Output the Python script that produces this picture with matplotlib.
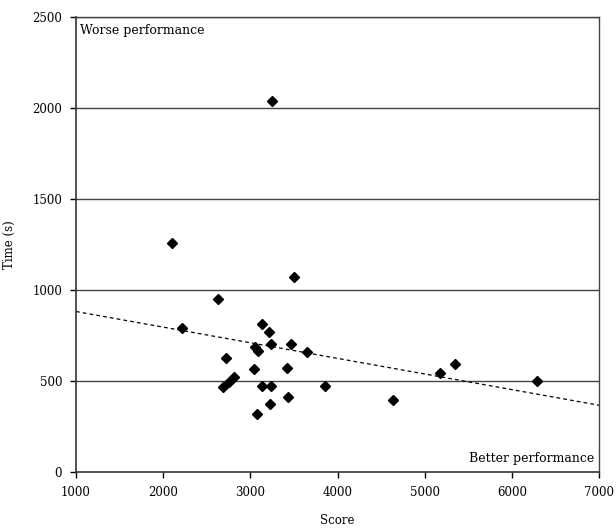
import numpy as np
import matplotlib
matplotlib.use("Agg")
import matplotlib.pyplot as plt

score = [2101, 3248, 3501, 2632, 2212, 3130, 3214, 3237, 3463, 3057, 3084, 3646,
         2721, 3046, 3417, 2813, 2752, 2690, 3134, 3237, 3856, 3428, 3222, 3073,
         4633, 5179, 5348, 6292]
time_s = [1258, 2038, 1071, 949, 793, 811, 768, 702, 702, 687, 667, 658,
          625, 564, 570, 520, 495, 469, 474, 474, 474, 414, 375, 319,
          396, 544, 593, 500]

xticks = [1000, 2000, 3000, 4000, 5000, 6000, 7000]
yticks = [0, 500, 1000, 1500, 2000, 2500]

plt.rcParams['font.family'] = ['DejaVu Serif']
fig = plt.figure(figsize=(6.16, 5.31), dpi=100)
ax = fig.add_axes([76/616, 59/531, 523/616, 455/531])

for yv in yticks[1:]:
    ax.axhline(yv, color='#444444', lw=1.0, zorder=1)

ax.plot(score, time_s, linestyle='none', marker='D', color='black', markersize=5, zorder=3)

coef = np.polyfit(score, time_s, 1)
xs = np.array([1000, 7000])
ax.plot(xs, np.polyval(coef, xs), linestyle=(0, (3, 2.5)), color='black', lw=0.9, zorder=2)

ax.set_xlim(1000, 7000)
ax.set_ylim(0, 2500)
ax.set_xticks(xticks)
ax.set_yticks(yticks)
ax.tick_params(labelsize=8.5, length=4, width=1, direction='out', colors='black')
ax.tick_params(axis='x', pad=6)
ax.tick_params(axis='y', pad=6)
for s in ['left', 'bottom']:
    ax.spines[s].set_color('#333333')
    ax.spines[s].set_linewidth(1.2)
for s in ['right', 'top']:
    ax.spines[s].set_color('#444444')
    ax.spines[s].set_linewidth(1.0)

ax.set_xlabel('Score', fontsize=8.5)
ax.set_ylabel('Time (s)', fontsize=8.5, labelpad=12)
ax.xaxis.set_label_coords(0.5, -0.092)

ax.text(0.008, 0.985, 'Worse performance', transform=ax.transAxes, ha='left', va='top', fontsize=9)
ax.text(0.99, 0.015, 'Better performance', transform=ax.transAxes, ha='right', va='bottom', fontsize=9)

fig.savefig('out.png', dpi=100)
